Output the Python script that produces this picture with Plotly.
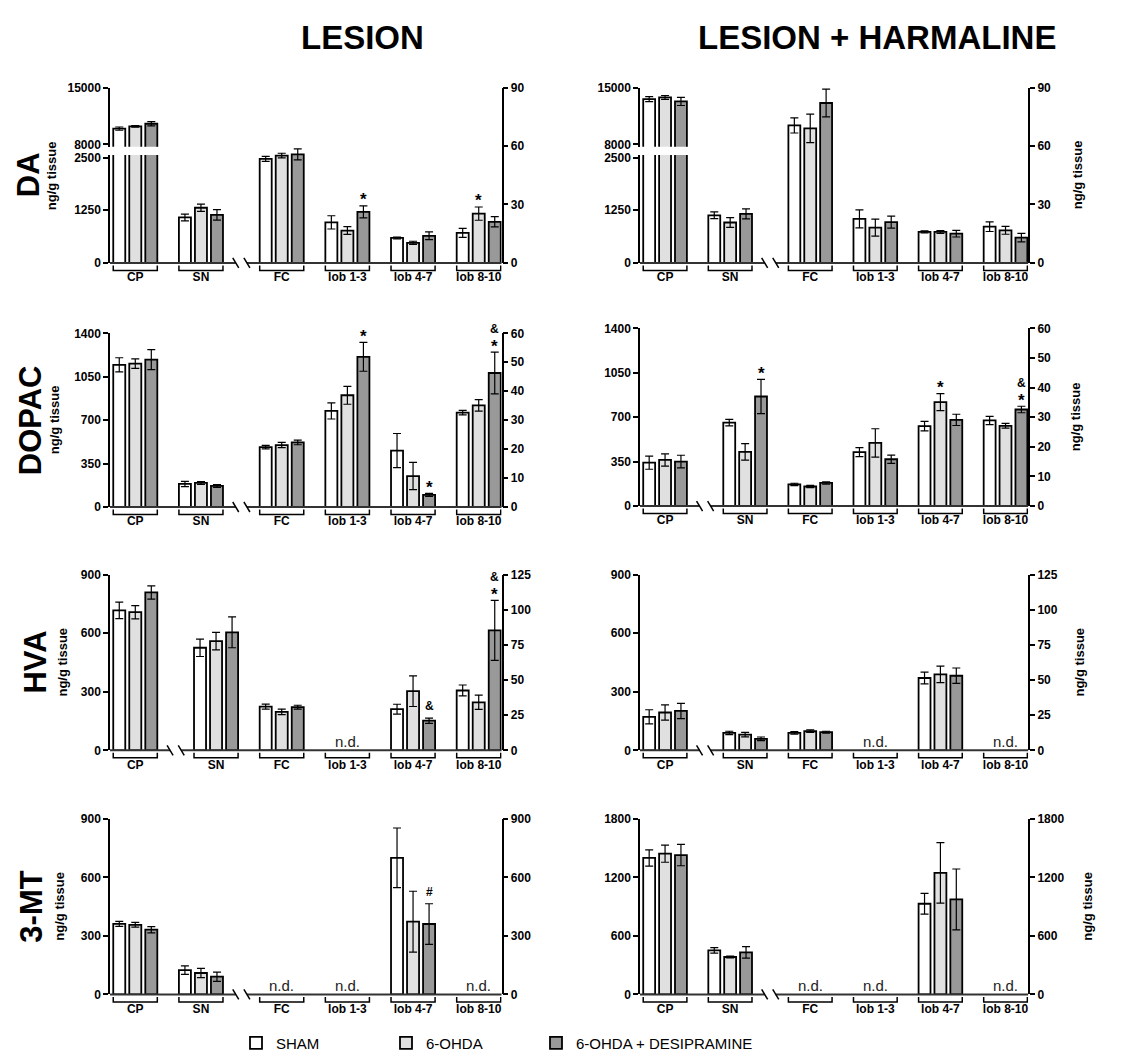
import plotly.graph_objects as go

# ------------------------------------------------------------------ data
REGIONS = ["CP", "SN", "FC", "lob 1-3", "lob 4-7", "lob 8-10"]
SERIES = ["SHAM", "6-OHDA", "6-OHDA + DESIPRAMINE"]
COL_TITLES = ["LESION", "LESION + HARMALINE"]
ROW_TITLES = ["DA", "DOPAC", "HVA", "3-MT"]
Y_TITLE = "ng/g tissue"
ND = "n.d."

# DA, LESION   (CP, SN on left axis; FC + lobules on right axis)
DA_LES_SHAM = [9950, 1080, 53.4, 20.8, 12.8, 15.4]
DA_LES_OHDA = [10230, 1310, 55.1, 16.6, 10.3, 25.3]
DA_LES_DESI = [10550, 1140, 55.7, 26.2, 13.9, 21.1]
DA_LES_SHAM_SEM = [200, 80, 1.3, 3.4, 0.5, 2.3]
DA_LES_OHDA_SEM = [100, 85, 1.2, 2.0, 0.8, 3.4]
DA_LES_DESI_SEM = [260, 125, 2.8, 3.1, 2.0, 2.6]
DA_LES_MARKS = [(3, 2, "*", 0), (5, 1, "*", 0)]

# DA, LESION + HARMALINE
DA_HAR_SHAM = [13580, 1130, 70.6, 22.6, 15.9, 18.6]
DA_HAR_OHDA = [13790, 960, 69.1, 18.1, 15.9, 16.7]
DA_HAR_DESI = [13300, 1165, 82.1, 20.9, 15.0, 13.0]
DA_HAR_SHAM_SEM = [300, 80, 3.9, 4.6, 0.5, 2.5]
DA_HAR_OHDA_SEM = [240, 115, 7.3, 4.4, 0.7, 2.0]
DA_HAR_DESI_SEM = [500, 120, 7.1, 3.1, 1.7, 2.2]
DA_HAR_MARKS = []

# DOPAC, LESION
DOPAC_LES_SHAM = [1146, 186, 20.7, 33.2, 19.5, 32.6]
DOPAC_LES_OHDA = [1156, 194, 21.4, 38.6, 10.7, 35.1]
DOPAC_LES_DESI = [1188, 170, 22.3, 51.9, 4.2, 46.3]
DOPAC_LES_SHAM_SEM = [57, 21, 0.6, 2.8, 5.9, 0.8]
DOPAC_LES_OHDA_SEM = [38, 11, 0.9, 3.1, 4.7, 2.0]
DOPAC_LES_DESI_SEM = [80, 11, 0.8, 5.0, 0.5, 7.2]
DOPAC_LES_MARKS = [(3, 2, "*", 0), (4, 2, "*", 0), (5, 2, "*", 0), (5, 2, "&", 1)]

# DOPAC, LESION + HARMALINE  (only CP on left axis)
DOPAC_HAR_SHAM = [342, 28.2, 7.3, 18.2, 27.0, 28.9]
DOPAC_HAR_OHDA = [363, 18.3, 6.6, 21.3, 35.1, 27.1]
DOPAC_HAR_DESI = [350, 37.0, 7.8, 15.8, 29.1, 32.6]
DOPAC_HAR_SHAM_SEM = [52, 1.1, 0.4, 1.5, 1.6, 1.4]
DOPAC_HAR_OHDA_SEM = [48, 2.8, 0.4, 4.8, 2.9, 0.8]
DOPAC_HAR_DESI_SEM = [50, 5.8, 0.4, 1.4, 1.9, 1.1]
DOPAC_HAR_MARKS = [(1, 2, "*", 0), (4, 1, "*", 0), (5, 2, "*", 0), (5, 2, "&", 1)]

# HVA, LESION  (only CP on left axis)
HVA_LES_SHAM = [717, 73.0, 31.1, None, 29.3, 42.6]
HVA_LES_OHDA = [708, 77.7, 27.4, None, 42.1, 34.2]
HVA_LES_DESI = [809, 84.0, 30.7, None, 21.1, 85.4]
HVA_LES_SHAM_SEM = [42, 6.2, 1.8, None, 3.5, 3.9]
HVA_LES_OHDA_SEM = [34, 6.2, 2.0, None, 10.9, 5.1]
HVA_LES_DESI_SEM = [34, 11.0, 1.4, None, 1.9, 21.3]
HVA_LES_MARKS = [(4, 2, "&", 0), (5, 2, "*", 0), (5, 2, "&", 1)]

# HVA, LESION + HARMALINE
HVA_HAR_SHAM = [172, 12.4, 12.4, None, 51.5, None]
HVA_HAR_OHDA = [194, 11.2, 13.6, None, 54.1, None]
HVA_HAR_DESI = [202, 8.2, 12.9, None, 53.1, None]
HVA_HAR_SHAM_SEM = [36, 1.2, 0.9, None, 4.2, None]
HVA_HAR_OHDA_SEM = [39, 1.6, 0.9, None, 5.9, None]
HVA_HAR_DESI_SEM = [39, 1.3, 0.7, None, 5.5, None]
HVA_HAR_MARKS = []

# 3-MT, LESION
MT_LES_SHAM = [362, 125, None, None, 700, None]
MT_LES_OHDA = [357, 110, None, None, 373, None]
MT_LES_DESI = [332, 91, None, None, 361, None]
MT_LES_SHAM_SEM = [13, 22, None, None, 153, None]
MT_LES_OHDA_SEM = [12, 24, None, None, 156, None]
MT_LES_DESI_SEM = [16, 24, None, None, 104, None]
MT_LES_MARKS = [(4, 2, "#", 0)]

# 3-MT, LESION + HARMALINE
MT_HAR_SHAM = [1399, 452, None, None, 930, None]
MT_HAR_OHDA = [1443, 384, None, None, 1247, None]
MT_HAR_DESI = [1429, 431, None, None, 974, None]
MT_HAR_SHAM_SEM = [83, 28, None, None, 106, None]
MT_HAR_OHDA_SEM = [88, 10, None, None, 310, None]
MT_HAR_DESI_SEM = [110, 59, None, None, 312, None]
MT_HAR_MARKS = []

# tick labels
DA_LEFT_TICKS_LOW = [0, 1250, 2500]
DA_LEFT_TICKS_HIGH = [8000, 15000]
DA_RIGHT_TICKS = [0, 30, 60, 90]
DOPAC_LEFT_TICKS = [0, 350, 700, 1050, 1400]
DOPAC_RIGHT_TICKS = [0, 10, 20, 30, 40, 50, 60]
HVA_LEFT_TICKS = [0, 300, 600, 900]
HVA_RIGHT_TICKS = [0, 25, 50, 75, 100, 125]
MT_LES_TICKS = [0, 300, 600, 900]
MT_HAR_TICKS = [0, 600, 1200, 1800]

# ------------------------------------------------------------------ style / layout
W, H = 1141, 1060
FONT = "Liberation Sans, Arial, Helvetica, sans-serif"
COLORS = ["#ffffff", "#e0e0e0", "#999999"]
X_RANGE = [-0.385, 5.58]
GAP = 0.23          # extra space at the axis switch
BAR_W = 0.183
PITCH = 0.244
COL_PX = [(110.0, 501.7), (640.0, 1028.3)]
ROW_PX = [
    [(259.3, 81.7), (259.3, 81.7)],
    [(506.7, 330.7), (505.7, 325.7)],
    [(753.3, 575.3), (753.3, 575.3)],
    [(1000.7, 822.7), (1000.7, 822.7)],
]
DA_LOW_TOP_PX, DA_LOW_TICK_PX = 150.0, 152.7
DA_HIGH_BOT_PX, DA_HIGH_TICK_PX = 141.7, 139.3
ROW_TITLE_X = [28, 30, 36, 32]
LEFT_TITLE_X = [51, 54, 63, 60]
RIGHT_TITLE_X = [1077, 1075, 1080, 1088]
LEGEND_WIDTHS = [105, 105, 230]


def pyf(px):
    return 1 - px / H


def pxf(px):
    return px / W


def axkey(letter, n):
    return f"{letter}axis" if n == 1 else f"{letter}axis{n}"


def axref(letter, n):
    return letter if n == 1 else f"{letter}{n}"


panels = [
    dict(row=0, col=0, means=[DA_LES_SHAM, DA_LES_OHDA, DA_LES_DESI],
         sems=[DA_LES_SHAM_SEM, DA_LES_OHDA_SEM, DA_LES_DESI_SEM], brk=2, broken=True,
         left=DA_LEFT_TICKS_LOW, right=DA_RIGHT_TICKS, marks=DA_LES_MARKS),
    dict(row=0, col=1, means=[DA_HAR_SHAM, DA_HAR_OHDA, DA_HAR_DESI],
         sems=[DA_HAR_SHAM_SEM, DA_HAR_OHDA_SEM, DA_HAR_DESI_SEM], brk=2, broken=True,
         left=DA_LEFT_TICKS_LOW, right=DA_RIGHT_TICKS, marks=DA_HAR_MARKS),
    dict(row=1, col=0, means=[DOPAC_LES_SHAM, DOPAC_LES_OHDA, DOPAC_LES_DESI],
         sems=[DOPAC_LES_SHAM_SEM, DOPAC_LES_OHDA_SEM, DOPAC_LES_DESI_SEM], brk=2, broken=False,
         left=DOPAC_LEFT_TICKS, right=DOPAC_RIGHT_TICKS, marks=DOPAC_LES_MARKS),
    dict(row=1, col=1, means=[DOPAC_HAR_SHAM, DOPAC_HAR_OHDA, DOPAC_HAR_DESI],
         sems=[DOPAC_HAR_SHAM_SEM, DOPAC_HAR_OHDA_SEM, DOPAC_HAR_DESI_SEM], brk=1, broken=False,
         left=DOPAC_LEFT_TICKS, right=DOPAC_RIGHT_TICKS, marks=DOPAC_HAR_MARKS),
    dict(row=2, col=0, means=[HVA_LES_SHAM, HVA_LES_OHDA, HVA_LES_DESI],
         sems=[HVA_LES_SHAM_SEM, HVA_LES_OHDA_SEM, HVA_LES_DESI_SEM], brk=1, broken=False,
         left=HVA_LEFT_TICKS, right=HVA_RIGHT_TICKS, marks=HVA_LES_MARKS),
    dict(row=2, col=1, means=[HVA_HAR_SHAM, HVA_HAR_OHDA, HVA_HAR_DESI],
         sems=[HVA_HAR_SHAM_SEM, HVA_HAR_OHDA_SEM, HVA_HAR_DESI_SEM], brk=1, broken=False,
         left=HVA_LEFT_TICKS, right=HVA_RIGHT_TICKS, marks=HVA_HAR_MARKS),
    dict(row=3, col=0, means=[MT_LES_SHAM, MT_LES_OHDA, MT_LES_DESI],
         sems=[MT_LES_SHAM_SEM, MT_LES_OHDA_SEM, MT_LES_DESI_SEM], brk=2, broken=False,
         left=MT_LES_TICKS, right=MT_LES_TICKS, marks=MT_LES_MARKS),
    dict(row=3, col=1, means=[MT_HAR_SHAM, MT_HAR_OHDA, MT_HAR_DESI],
         sems=[MT_HAR_SHAM_SEM, MT_HAR_OHDA_SEM, MT_HAR_DESI_SEM], brk=2, broken=False,
         left=MT_HAR_TICKS, right=MT_HAR_TICKS, marks=MT_HAR_MARKS),
]

fig = go.Figure()
layout = {}
shapes = []
annotations = []

tick_font = dict(size=12, family=FONT, color="black", weight="bold")
axis_style = dict(showline=True, linecolor="black", linewidth=1.5, ticks="outside", ticklen=5,
                  tickwidth=1.5, tickcolor="black", showgrid=False, zeroline=False,
                  tickfont=tick_font, fixedrange=True)


def ticks(vals):
    return dict(tickvals=vals, ticktext=[str(v) for v in vals])


xi = 0
yi = 0
legend_done = False
for p in panels:
    xi += 1
    xr = axref("x", xi)
    zero_px, top_px = ROW_PX[p["row"]][p["col"]]
    c0, c1 = COL_PX[p["col"]]
    brk = p["brk"]
    pos = [i + (GAP if i >= brk else 0) for i in range(len(REGIONS))]

    # ---- y axes
    if p["broken"]:
        yi += 1
        y_low = yi
        low_max = DA_LEFT_TICKS_LOW[-1] * (zero_px - DA_LOW_TOP_PX) / (zero_px - DA_LOW_TICK_PX)
        layout[axkey("y", y_low)] = dict(domain=[pyf(zero_px), pyf(DA_LOW_TOP_PX)], range=[0, low_max],
                                         anchor=xr, side="left", **ticks(p["left"]), **axis_style)
        yi += 1
        y_high = yi
        hi0, hi1 = DA_LEFT_TICKS_HIGH
        high_min = hi0 - (DA_HIGH_BOT_PX - DA_HIGH_TICK_PX) * (hi1 - hi0) / (DA_HIGH_TICK_PX - top_px)
        layout[axkey("y", y_high)] = dict(domain=[pyf(DA_HIGH_BOT_PX), pyf(top_px)], range=[high_min, hi1],
                                          anchor=xr, side="left", **ticks(DA_LEFT_TICKS_HIGH), **axis_style)
        left_axes = [(axref("y", y_low), 0, low_max), (axref("y", y_high), high_min, hi1)]
        base_y = y_low
    else:
        yi += 1
        y_left = yi
        layout[axkey("y", y_left)] = dict(domain=[pyf(zero_px), pyf(top_px)], range=[0, p["left"][-1]],
                                          anchor=xr, side="left", **ticks(p["left"]), **axis_style)
        left_axes = [(axref("y", y_left), 0, p["left"][-1])]
        base_y = y_left
    yi += 1
    y_right = yi
    layout[axkey("y", y_right)] = dict(domain=[pyf(zero_px), pyf(top_px)], range=[0, p["right"][-1]],
                                       anchor=xr, side="right", **ticks(p["right"]), **axis_style)
    right_ref = axref("y", y_right)

    # ---- x axis
    layout[axkey("x", xi)] = dict(domain=[pxf(c0), pxf(c1)], range=X_RANGE, anchor=axref("y", base_y),
                                  tickvals=pos, ticktext=REGIONS, ticks="outside", ticklen=3,
                                  tickcolor="rgba(0,0,0,0)", showline=False, showgrid=False,
                                  zeroline=False, fixedrange=True,
                                  tickfont=dict(size=12, family=FONT, color="black", weight="bold"))

    # ---- bars
    for s in range(3):
        for part, yrefs in (("left", [a[0] for a in left_axes]), ("right", [right_ref])):
            idx = [i for i in range(len(REGIONS))
                   if (i < brk) == (part == "left") and p["means"][s][i] is not None]
            if not idx:
                continue
            for yr in yrefs:
                show = (not legend_done) and part == "right"
                fig.add_trace(go.Bar(
                    x=[pos[i] for i in idx], y=[p["means"][s][i] for i in idx],
                    error_y=dict(type="data", array=[p["sems"][s][i] for i in idx], visible=True,
                                 color="black", thickness=1.2, width=4),
                    width=BAR_W, offset=(s - 1) * PITCH - BAR_W / 2,
                    marker=dict(color=COLORS[s], line=dict(color="black", width=1.8)),
                    name=SERIES[s], legendgroup=SERIES[s], showlegend=show,
                    legendwidth=LEGEND_WIDTHS[s],
                    xaxis=xr, yaxis=yr, hoverinfo="skip"))
    legend_done = True

    # ---- baseline with axis-switch marks
    zero_paper = pyf(zero_px)
    xc = (pos[brk - 1] + pos[brk]) / 2
    d = 0.085
    for xa, xb in ((X_RANGE[0], xc - d), (xc + d, X_RANGE[1])):
        shapes.append(dict(type="line", xref=xr, yref="paper", ysizemode="pixel", yanchor=zero_paper,
                           x0=xa, x1=xb, y0=0, y1=0, line=dict(color="#333333", width=2)))
    for xm in (xc - d, xc + d):
        shapes.append(dict(type="line", xref=xr, yref="paper", xsizemode="pixel", xanchor=xm,
                           ysizemode="pixel", yanchor=zero_paper, x0=-3, x1=3, y0=5, y1=-5,
                           line=dict(color="black", width=1.5)))
    # ---- brackets under each region
    half = PITCH + BAR_W / 2
    for x in pos:
        a, b = x - half, x + half
        shapes.append(dict(type="path", xref=xr, yref="paper", ysizemode="pixel", yanchor=zero_paper,
                           path=f"M {a},-2.5 L {a},-7.5 L {b},-7.5 L {b},-2.5",
                           line=dict(color="black", width=1.5)))

    # ---- n.d. labels
    for i in range(len(REGIONS)):
        if all(p["means"][s][i] is None for s in range(3)):
            annotations.append(dict(x=pos[i], y=0, xref=xr, yref=right_ref, text=ND, showarrow=False,
                                    yanchor="middle", yshift=9,
                                    font=dict(size=15, family=FONT, color="#222222")))

    # ---- significance marks
    for g, s, sym, level in p["marks"]:
        top = p["means"][s][g] + p["sems"][s][g]
        if g >= brk:
            yr = right_ref
        else:
            yr = left_axes[-1][0]
            for ref, lo, hi in left_axes:
                if lo <= top <= hi:
                    yr = ref
        if sym == "*":
            size, shift = 17, (6 if level == 0 else 18)
        else:
            size, shift = 12, (12 if level == 0 else 23)
        annotations.append(dict(x=pos[g] + (s - 1) * PITCH, y=top, xref=xr, yref=yr, text=sym,
                                showarrow=False, yanchor="middle", yshift=shift,
                                font=dict(size=size, family=FONT, color="black", weight="bold")))

# ---- titles
for c, t in enumerate(COL_TITLES):
    cx = [362, 877][c]
    annotations.append(dict(x=pxf(cx), y=pyf(31), xref="paper", yref="paper", text=t, showarrow=False,
                            xanchor="center", yanchor="middle",
                            font=dict(size=33, family=FONT, color="black", weight="bold")))
for r, t in enumerate(ROW_TITLES):
    zl, tl = ROW_PX[r][0]
    mid = (zl + tl) / 2
    annotations.append(dict(x=pxf(ROW_TITLE_X[r]), y=pyf(mid), xref="paper", yref="paper", text=t,
                            showarrow=False, textangle=-90, xanchor="center", yanchor="middle",
                            font=dict(size=31, family=FONT, color="black", weight="bold")))
    annotations.append(dict(x=pxf(LEFT_TITLE_X[r]), y=pyf(mid), xref="paper", yref="paper", text=Y_TITLE,
                            showarrow=False, textangle=-90, xanchor="center", yanchor="middle",
                            font=dict(size=13, family=FONT, color="black", weight="bold")))
    zr, tr = ROW_PX[r][1]
    annotations.append(dict(x=pxf(RIGHT_TITLE_X[r]), y=pyf((zr + tr) / 2), xref="paper", yref="paper",
                            text=Y_TITLE, showarrow=False, textangle=-90, xanchor="center",
                            yanchor="middle",
                            font=dict(size=13, family=FONT, color="black", weight="bold")))

layout.update(dict(
    width=W, height=H, margin=dict(l=0, r=0, t=0, b=0), autosize=False,
    paper_bgcolor="white", plot_bgcolor="rgba(0,0,0,0)", barmode="overlay",
    font=dict(family=FONT, color="black"),
    shapes=shapes, annotations=annotations,
    legend=dict(orientation="h", x=pxf(236), y=pyf(1050), xanchor="left", yanchor="middle",
                font=dict(size=15, family=FONT, color="black"),
                bgcolor="rgba(0,0,0,0)"),
))
fig.update_layout(**layout)
fig.write_html("out.html", config={"displayModeBar": False},
               post_script="document.body.style.margin='0';document.body.style.overflow='hidden';")
